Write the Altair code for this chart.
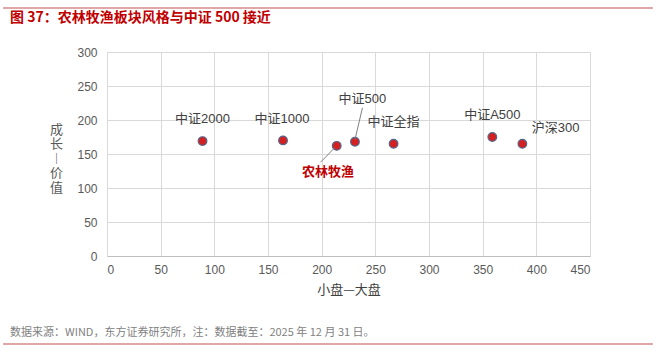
import altair as alt
import pandas as pd

names = ["中证2000", "中证1000", "农林牧渔", "中证500", "中证全指", "中证A500", "沪深300"]
size_val = [89, 164, 214, 231, 267, 359, 387]
growth_val = [169, 170, 162, 168, 165, 175, 165]

label_x = [89, 163, 206, 238, 267, 359, 418]
label_y = [201, 201, 123, 231, 197, 207, 188]
label_kind = ["idx", "idx", "sector", "idx", "idx", "idx", "idx"]

leader_x = [231, 212]
leader_y = [171, 159]
leader_x2 = [238, 199]
leader_y2 = [218, 138]

x_ticks = [0, 50, 100, 150, 200, 250, 300, 350, 400, 450]
y_ticks = [0, 50, 100, 150, 200, 250, 300]

pts = pd.DataFrame({"name": names, "x": size_val, "y": growth_val})
labs = pd.DataFrame({"name": names, "x": label_x, "y": label_y, "kind": label_kind})
lead = pd.DataFrame({"x": leader_x, "y": leader_y, "x2": leader_x2, "y2": leader_y2})

FONT = "Liberation Sans, Noto Sans CJK SC"
RED = "#c00000"

xs = alt.Scale(domain=[0, 450], nice=False)
ys = alt.Scale(domain=[0, 300], nice=False)

xax = alt.Axis(values=x_ticks, title="小盘—大盘", grid=True,
               gridColor="#d9d9d9", domainColor="#bfbfbf", ticks=False, labelOverlap=False,
               labelColor="#595959", labelFontSize=12, labelFont=FONT, labelPadding=8,
               titleColor="#404040", titleFontSize=13, titleFont="Noto Sans CJK SC",
               titleFontWeight="normal", titlePadding=8)
yax = alt.Axis(values=y_ticks, title=["成", "长", "︱", "价", "值"],
               titleAngle=0, titleBaseline="top", titleAlign="center",
               grid=True, gridColor="#d9d9d9", domainColor="#d9d9d9", ticks=False,
               labelOverlap=False, labelColor="#595959", labelFontSize=12, labelFont=FONT,
               labelPadding=10, titleColor="#595959", titleFontSize=13,
               titleFont="Noto Sans CJK SC", titleFontWeight="normal", titleLineHeight=14.5,
               titleX=-51, titleY=71)

X = alt.X("x:Q", scale=xs, axis=xax)
Y = alt.Y("y:Q", scale=ys, axis=yax)

points = alt.Chart(pts).mark_point(filled=True, size=75, fill="#d42020", stroke="#56658a",
                                   strokeWidth=1.2, opacity=1).encode(x=X, y=Y)

leaders = alt.Chart(lead).mark_rule(color="#7f7f7f", strokeWidth=1).encode(
    x=X, y=Y, x2="x2:Q", y2="y2:Q")

idx_labels = alt.Chart(labs).transform_filter(alt.datum.kind == "idx").mark_text(
    fontSize=13, font=FONT, color="#404040").encode(x=X, y=Y, text="name:N")

sector_labels = alt.Chart(labs).transform_filter(alt.datum.kind == "sector").mark_text(
    fontSize=13, font="Noto Sans CJK SC", color=RED, fontWeight="bold").encode(
    x=X, y=Y, text="name:N")

title_txt = alt.Chart(pd.DataFrame({"t": ["图 37：农林牧渔板块风格与中证 500 接近"]})).mark_text(
    align="left", baseline="middle", fontSize=14, font="Noto Sans CJK SC",
    fontWeight="bold", color=RED).encode(
    x=alt.value(-97), y=alt.value(-34), text="t:N")

foot_txt = alt.Chart(pd.DataFrame({"t": ["数据来源：WIND，东方证券研究所，注：数据截至：2025 年 12 月 31 日。"]})).mark_text(
    align="left", baseline="middle", fontSize=11, font="Noto Sans CJK SC",
    color="#7f7f7f").encode(
    x=alt.value(-97), y=alt.value(281), text="t:N")

top_line = alt.Chart(pd.DataFrame({"a": [0]})).mark_rule(color="#c0504d", strokeWidth=1.2).encode(
    x=alt.value(-104), x2=alt.value(546), y=alt.value(-44))
bot_line = alt.Chart(pd.DataFrame({"a": [0]})).mark_rule(color="#c0504d", strokeWidth=1.2).encode(
    x=alt.value(-104), x2=alt.value(546), y=alt.value(292))

chart = alt.layer(points, leaders, idx_labels, sector_labels, title_txt, foot_txt,
                  top_line, bot_line).properties(
    width=483, height=204,
    padding={"left": 107, "top": 52, "right": 72, "bottom": 96},
    autosize=alt.AutoSizeParams(type="none"),
    background="white",
).configure_view(stroke=None)

chart.save("out.html", embed_options={"renderer": "svg", "actions": False})
